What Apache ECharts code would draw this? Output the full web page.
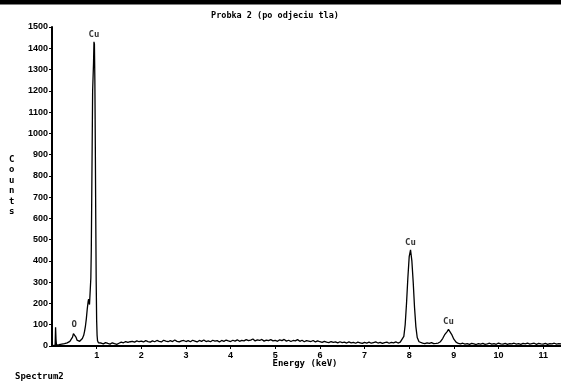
<!DOCTYPE html>
<html><head><meta charset="utf-8">
<script src="https://cdn.jsdelivr.net/npm/echarts@6/dist/echarts.min.js"></script>
<style>html,body{margin:0;padding:0;background:#fff}#c{width:561px;height:381px}</style>
</head><body><div id="c"></div>
<script>
const titleText = 'Probka 2 (po odjeciu tla)';
const xName = 'Energy (keV)';
const yName = 'Counts';
const footer = 'Spectrum2';

// spectrum segments [energy keV, counts]
const lowRegion = [[0.00,0],[0.04,3],[0.07,4],[0.08,88],[0.09,30],[0.10,4],[0.13,3],[0.16,6],[0.19,12],[0.22,9],[0.25,14],[0.28,11],[0.31,10],[0.34,15],[0.37,18],[0.40,22],[0.43,30],[0.46,42],[0.48,58],[0.50,65],[0.52,58],[0.54,40],[0.56,28],[0.59,19],[0.62,22],[0.65,28],[0.68,35],[0.71,50],[0.73,70],[0.75,95],[0.77,130],[0.79,175],[0.81,210],[0.82,220],[0.84,195],[0.85,200],[0.87,320],[0.88,450],[0.89,700],[0.90,950],[0.91,1200],[0.93,1330],[0.94,1430],[0.95,1420],[0.96,1250],[0.97,950],[0.98,600],[0.99,300],[1.00,120],[1.01,50],[1.02,25],[1.04,15],[1.07,12]];
const backgroundMid = [[1.10,14],[1.15,10],[1.20,16],[1.25,12],[1.30,9],[1.35,15],[1.40,11],[1.45,8],[1.50,13],[1.55,18],[1.60,15],[1.65,21],[1.70,17],[1.75,20],[1.80,22],[1.85,18],[1.90,24],[1.95,20],[2.00,23],
[2.05,19],[2.10,25],[2.15,21],[2.20,18],[2.25,24],[2.30,20],[2.35,26],[2.40,22],[2.45,19],[2.50,27],[2.55,23],[2.60,20],[2.65,25],[2.70,21],[2.75,28],[2.80,22],[2.85,19],[2.90,24],[2.95,26],[3.00,21],
[3.05,25],[3.10,20],[3.15,27],[3.20,23],[3.25,19],[3.30,26],[3.35,22],[3.40,28],[3.45,21],[3.50,24],[3.55,20],[3.60,27],[3.65,23],[3.70,25],[3.75,19],[3.80,26],[3.85,22],[3.90,28],[3.95,24],[4.00,21],
[4.05,27],[4.10,23],[4.15,29],[4.20,22],[4.25,26],[4.30,24],[4.35,30],[4.40,25],[4.45,28],[4.50,33],[4.55,24],[4.60,29],[4.65,26],[4.70,31],[4.75,23],[4.80,28],[4.85,25],[4.90,30],[4.95,24],[5.00,27],
[5.05,22],[5.10,29],[5.15,25],[5.20,31],[5.25,23],[5.30,27],[5.35,21],[5.40,26],[5.45,24],[5.50,30],[5.55,22],[5.60,27],[5.65,20],[5.70,25],[5.75,23],[5.80,21],[5.85,26],[5.90,19],[5.95,24],[6.00,20],
[6.05,17],[6.10,22],[6.15,18],[6.20,16],[6.25,21],[6.30,17],[6.35,19],[6.40,15],[6.45,20],[6.50,16],[6.55,18],[6.60,14],[6.65,19],[6.70,15],[6.75,17],[6.80,13],[6.85,18],[6.90,15],[6.95,12],[7.00,17],
[7.05,14],[7.10,18],[7.15,13],[7.20,16],[7.25,19],[7.30,14],[7.35,17],[7.40,12],[7.45,16],[7.50,18],[7.55,13],[7.60,17],[7.65,15],[7.70,19],[7.75,14],[7.80,18]];
const cuKa = [[7.84,22],[7.88,45],[7.91,100],[7.94,200],[7.97,320],[8.00,420],[8.03,452],[8.06,400],[8.09,300],[8.12,180],[8.15,90],[8.18,40],[8.22,20],[8.26,15]];
const backgroundGap = [[8.30,14],[8.35,11],[8.40,15],[8.45,12],[8.50,16],[8.55,11]];
const cuKb = [[8.60,12],[8.65,14],[8.70,20],[8.75,35],[8.80,55],[8.85,68],[8.88,78],[8.91,72],[8.95,55],[9.00,32],[9.05,18],[9.10,12]];
const backgroundTail = [[9.15,10],[9.20,13],[9.25,9],[9.30,11],[9.35,8],[9.40,12],[9.45,10],[9.50,7],[9.55,11],[9.60,9],[9.65,12],[9.70,8],[9.75,10],[9.80,13],[9.85,9],[9.90,11],[9.95,8],[10.00,14],[10.05,10],[10.10,9],[10.15,12],[10.20,8],[10.25,11],[10.30,10],[10.35,13],[10.40,9],[10.45,11],[10.50,8],[10.55,12],[10.60,10],[10.65,14],[10.70,9],[10.75,11],[10.80,13],[10.85,8],[10.90,12],[10.95,10],[11.00,9],[11.05,12],[11.10,8],[11.15,11],[11.20,10],[11.25,13],[11.30,9],[11.35,11],[11.40,10]];

const peakNames = ['Cu','O','Cu','Cu'];
const peakEnergy = [0.94, 0.50, 8.03, 8.88];
const peakCounts = [1430, 65, 452, 78];

const xMax = 11.4, yMax = 1500;

const spectrum = [].concat(lowRegion, backgroundMid, cuKa, backgroundGap, cuKb, backgroundTail);
const peaks = peakNames.map((n,i)=>({value:[peakEnergy[i], peakCounts[i]], name:n}));

const chart = echarts.init(document.getElementById('c'), null, {renderer:'canvas'});
const font = 'Liberation Sans, Arial, sans-serif';
const mono = 'DejaVu Sans Mono, monospace';
chart.setOption({
  animation:false,
  backgroundColor:'#fff',
  title:{text:titleText, left:270, top:6, textAlign:'center',
    textStyle:{fontFamily:mono, fontSize:8.5, fontWeight:'bold', color:'#000'}},
  grid:{left:52, top:27, right:0, bottom:35},
  xAxis:{type:'value', min:0, max:xMax, interval:1,
    axisLine:{lineStyle:{color:'#000', width:2}},
    axisTick:{show:true, length:3, lineStyle:{color:'#000', width:1}},
    splitLine:{show:false},
    axisLabel:{color:'#000', fontFamily:font, fontWeight:'bold', fontSize:9, margin:5,
      showMinLabel:false, showMaxLabel:false, formatter:v=>String(v)}},
  yAxis:{type:'value', min:0, max:yMax, interval:100,
    axisLine:{show:true, lineStyle:{color:'#000', width:2}},
    axisTick:{show:true, length:3, lineStyle:{color:'#000', width:1}},
    splitLine:{show:false},
    axisLabel:{color:'#000', fontFamily:font, fontWeight:'bold', fontSize:9, margin:4, formatter:v=>String(v)}},
  series:[
    {type:'line', data:spectrum, showSymbol:false, symbol:'none',
      lineStyle:{color:'#000', width:1.3}, z:3},
    {type:'scatter', data:peaks, symbolSize:0,
      label:{show:true, position:'top', distance:3, formatter:p=>p.name,
        color:'#000', fontFamily:mono, fontWeight:'bold', fontSize:9}}
  ],
  graphic:[
    {type:'rect', left:0, top:0, shape:{x:0,y:0,width:561,height:4.5}, style:{fill:'#000'}},
    {type:'text', left:9, top:154, style:{text:yName.split('').join('\n'), font:'bold 9px '+mono, lineHeight:10.5, fill:'#000'}},
    {type:'text', x:305, y:364, style:{text:xName, font:'bold 9px '+mono, fill:'#000', textAlign:'center', textVerticalAlign:'middle'}},
    {type:'text', x:15, y:377, style:{text:footer, font:'bold 9px '+mono, fill:'#000', textVerticalAlign:'middle'}}
  ]
});
</script></body></html>
